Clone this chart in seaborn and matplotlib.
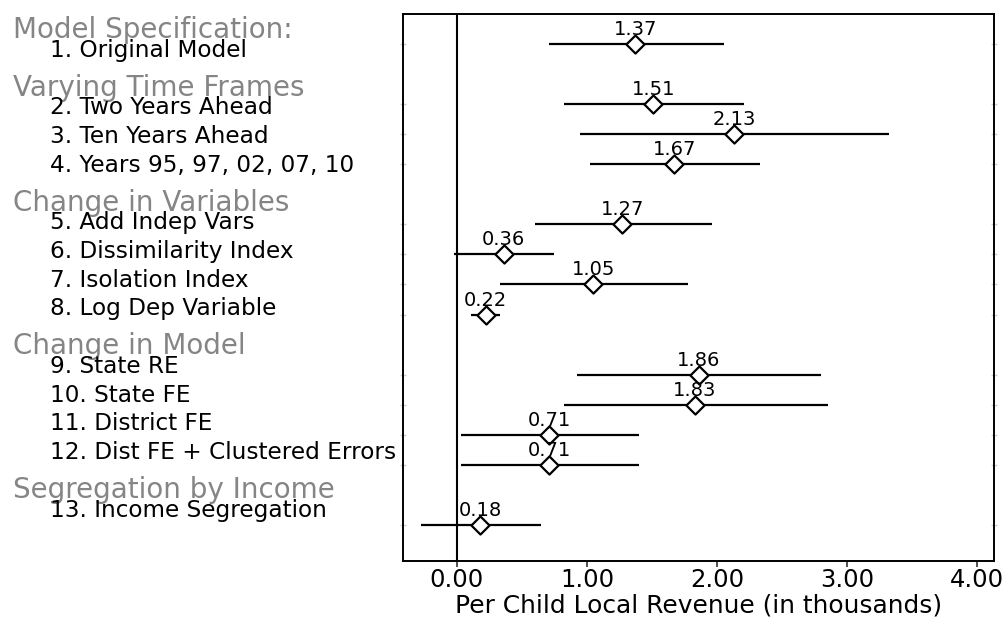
import matplotlib
matplotlib.use("Agg")
import matplotlib.pyplot as plt
import numpy as np
import pandas as pd
import seaborn as sns

# Robustness checks of the segregation coefficient, grouped by type of change
sections = ["Model Specification:", "Varying Time Frames", "Change in Variables",
            "Change in Model", "Segregation by Income"]
section_sizes = [1, 3, 4, 4, 1]
specs = ["1. Original Model",
         "2. Two Years Ahead", "3. Ten Years Ahead", "4. Years 95, 97, 02, 07, 10",
         "5. Add Indep Vars", "6. Dissimilarity Index", "7. Isolation Index",
         "8. Log Dep Variable",
         "9. State RE", "10. State FE", "11. District FE",
         "12. Dist FE + Clustered Errors",
         "13. Income Segregation"]
coef = [1.37, 1.51, 2.13, 1.67, 1.27, 0.36, 1.05, 0.22, 1.86, 1.83, 0.71, 0.71, 0.18]
ci_low = [0.71, 0.82, 0.95, 1.02, 0.60, -0.02, 0.33, 0.11, 0.92, 0.82, 0.03, 0.03, -0.28]
ci_high = [2.05, 2.21, 3.32, 2.33, 1.96, 0.75, 1.78, 0.33, 2.80, 2.85, 1.40, 1.40, 0.65]
x_ticks = [0, 1, 2, 3, 4]
x_title = "Per Child Local Revenue (in thousands)"

# each section takes one slot for its heading, then one slot per specification
header_pos, item_pos = [], []
slot = 0
for n in section_sizes:
    header_pos.append(slot)
    item_pos.extend(range(slot + 1, slot + 1 + n))
    slot += n + 1

df = pd.DataFrame({"label": specs, "coef": coef, "lo": ci_low, "hi": ci_high,
                   "pos": item_pos})

sns.set_theme(style="white")
plt.rcParams["font.family"] = ["DejaVu Sans"]

W, H = 1003, 620
fig = plt.figure(figsize=(W / 100, H / 100), dpi=100)
ax_l, ax_r, ax_t, ax_b = 403, 994, 14, 561
ax = fig.add_axes([ax_l / W, 1 - ax_b / H, (ax_r - ax_l) / W, (ax_b - ax_t) / H])

# zero reference line
ax.axvline(0, color="black", lw=1.5, zorder=1)

# confidence intervals
ax.hlines(df["pos"], df["lo"], df["hi"], color="black", lw=1.6, zorder=2)

# point estimates
sns.scatterplot(data=df, x="coef", y="pos", marker="D", s=85, color="white",
                edgecolor="black", linewidth=1.6, zorder=3, ax=ax, legend=False)

for _, r in df.iterrows():
    ax.annotate(f"{r['coef']:.2f}", (r["coef"], r["pos"]), xytext=(0, 6.5),
                textcoords="offset points", ha="center", va="baseline",
                fontsize=14, color="black", zorder=4)

ax.set_xlim(-0.415, 4.13)
ax.set_ylim(18.2, 0)
ax.set_xticks(x_ticks)
ax.set_xticklabels([f"{t:.2f}" for t in x_ticks], fontsize=17.5)
ax.set_xlabel(x_title, fontsize=17.9, labelpad=1)
ax.set_ylabel("")
ax.set_yticks(item_pos)
ax.set_yticklabels([])
ax.tick_params(axis="x", direction="out", length=4.5, width=1.2, color="#333333",
               pad=0.5, bottom=True, labelcolor="black")
ax.tick_params(axis="y", direction="inout", length=4, width=1.0, color="#cfcfcf",
               left=True, right=True, labelleft=False)
ax.xaxis.label.set_color("black")
for s in ax.spines.values():
    s.set_visible(True)
    s.set_color("black")
    s.set_linewidth(1.4)

# specification labels down the left side
lab = fig.add_axes([0, 1 - ax_b / H, ax_l / W, (ax_b - ax_t) / H])
lab.set_axis_off()
lab.set_xlim(0, ax_l)
lab.set_ylim(18.77, -0.263)
for name, p in zip(sections, header_pos):
    lab.text(13, p + 0.3, name, fontsize=20, color="#858585", ha="left",
             va="center")
for name, p in zip(specs, item_pos):
    lab.text(50, p, name, fontsize=16.7, color="black", ha="left", va="center")

fig.savefig("out.png", dpi=100)
